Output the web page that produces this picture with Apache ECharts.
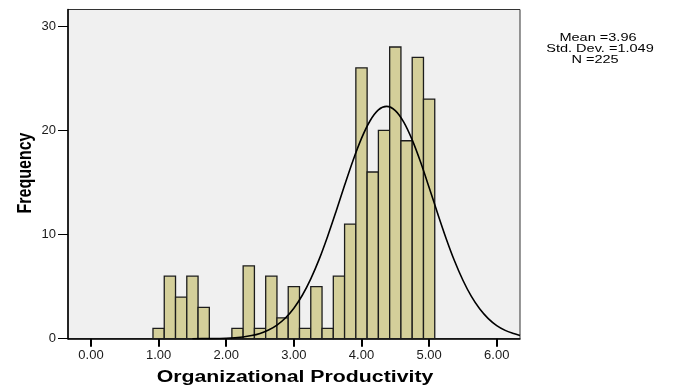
<!DOCTYPE html>
<html>
<head>
<meta charset="utf-8">
<script src="https://cdn.jsdelivr.net/npm/echarts@6/dist/echarts.min.js"></script>
<style>
html,body{margin:0;padding:0;background:#fff;}
#chart{width:674px;height:390px;}
</style>
</head>
<body>
<div id="chart"></div>
<script>
// Histogram bins (centres) and frequencies
var binCenters = [1.0000, 1.1667, 1.3333, 1.5000, 1.6667, 1.8333, 2.0000, 2.1667, 2.3333, 2.5000, 2.6667, 2.8333, 3.0000,
                  3.1667, 3.3333, 3.5000, 3.6667, 3.8333, 4.0000, 4.1667, 4.3333, 4.5000, 4.6667, 4.8333, 5.0000];
var binCounts  = [1, 6, 4, 6, 3, 0, 0, 1, 7, 1, 6, 2, 5,
                  1, 5, 1, 6, 11, 26, 16, 20, 28, 19, 27, 23];
var binWidth = 1 / 6;

// Normal curve, points
var curveX = [1.50, 1.75, 2.00, 2.25, 2.375, 2.50, 2.625, 2.75, 2.875, 3.00, 3.125, 3.25, 3.375, 3.50, 3.625, 3.75, 3.875, 4.00, 4.125, 4.25, 4.37,
              4.50, 4.625, 4.75, 4.875, 5.00, 5.125, 5.25, 5.375, 5.50, 5.625, 5.75, 5.875, 6.00, 6.125, 6.25, 6.344];
var curveY = [0.00, 0.01, 0.05, 0.17, 0.30, 0.51, 0.83, 1.31, 1.99, 2.93, 4.17, 5.75, 7.64, 9.84, 12.24, 14.72, 17.11, 19.23, 20.90, 21.96, 22.30,
              21.90, 20.79, 19.08, 16.93, 14.52, 12.04, 9.65, 7.48, 5.61, 4.06, 2.85, 1.93, 1.26, 0.80, 0.49, 0.30];

// Tick labels
var xTicks = [0, 1, 2, 3, 4, 5, 6];
var yTicks = [0, 10, 20, 30];

var statLines = ['Mean =3.96', 'Std. Dev. =1.049', 'N =225'];

var barData = binCenters.map(function (c, i) {
  return [c - binWidth / 2, c + binWidth / 2, binCounts[i]];
});
var curveData = curveX.map(function (x, i) { return [x, curveY[i]]; });

var chart = echarts.init(document.getElementById('chart'), null, {renderer: 'canvas'});
var font = '"Liberation Sans", Arial, sans-serif';

var option = {
  animation: false,
  backgroundColor: '#ffffff',
  grid: {
    left: 68, right: 154, top: 9.5, bottom: 51.3,
    show: true, backgroundColor: '#f0f0f0', borderColor: '#333', borderWidth: 1
  },
  xAxis: {
    type: 'value', min: -0.34, max: 6.344,
    axisLine: {show: true, onZero: false, lineStyle: {color: '#000', width: 1.5}},
    axisTick: {show: true, customValues: xTicks, length: 8, lineStyle: {color: '#000', width: 2}},
    axisLabel: {
      customValues: xTicks, margin: 10, color: '#1a1a1a', fontFamily: font, fontSize: 13,
      formatter: function (v) { return v.toFixed(2); }
    },
    splitLine: {show: false}
  },
  yAxis: {
    type: 'value', min: 0, max: 31.6, interval: 10,
    axisLine: {show: true, onZero: false, lineStyle: {color: '#000', width: 1.5}},
    axisTick: {show: true, customValues: yTicks, length: 10, lineStyle: {color: '#000', width: 1}},
    axisLabel: {customValues: yTicks, margin: 12, color: '#1a1a1a', fontFamily: font, fontSize: 13},
    splitLine: {show: false}
  },
  series: [
    {
      type: 'custom',
      data: barData,
      encode: {x: [0, 1], y: 2},
      renderItem: function (params, api) {
        var p0 = api.coord([api.value(0), api.value(2)]);
        var p1 = api.coord([api.value(1), 0]);
        return {
          type: 'rect',
          shape: {x: p0[0], y: p0[1], width: p1[0] - p0[0], height: p1[1] - p0[1]},
          style: {fill: '#d4cf9a', stroke: '#1c1c1c', lineWidth: 1.3}
        };
      },
      z: 2
    },
    {
      type: 'line',
      data: curveData,
      smooth: 0.3,
      showSymbol: false,
      lineStyle: {color: '#000', width: 1.6},
      z: 3
    }
  ],
  graphic: [
    {type: 'text', x: 598, y: 37.5, scaleX: 1.32,
     style: {text: statLines[0], font: '11px ' + font, fill: '#000', textAlign: 'center', textVerticalAlign: 'middle'}},
    {type: 'text', x: 600, y: 48.5, scaleX: 1.32,
     style: {text: statLines[1], font: '11px ' + font, fill: '#000', textAlign: 'center', textVerticalAlign: 'middle'}},
    {type: 'text', x: 595, y: 59.5, scaleX: 1.32,
     style: {text: statLines[2], font: '11px ' + font, fill: '#000', textAlign: 'center', textVerticalAlign: 'middle'}},
    {type: 'text', x: 295, y: 378, scaleX: 1.33,
     style: {text: 'Organizational Productivity', font: 'bold 16px ' + font, fill: '#000', textAlign: 'center', textVerticalAlign: 'middle'}},
    {type: 'text', x: 25, y: 173, rotation: Math.PI / 2, scaleY: 1.3,
     style: {text: 'Frequency', font: 'bold 16px ' + font, fill: '#000', textAlign: 'center', textVerticalAlign: 'middle'}}
  ]
};
chart.setOption(option);
</script>
</body>
</html>
